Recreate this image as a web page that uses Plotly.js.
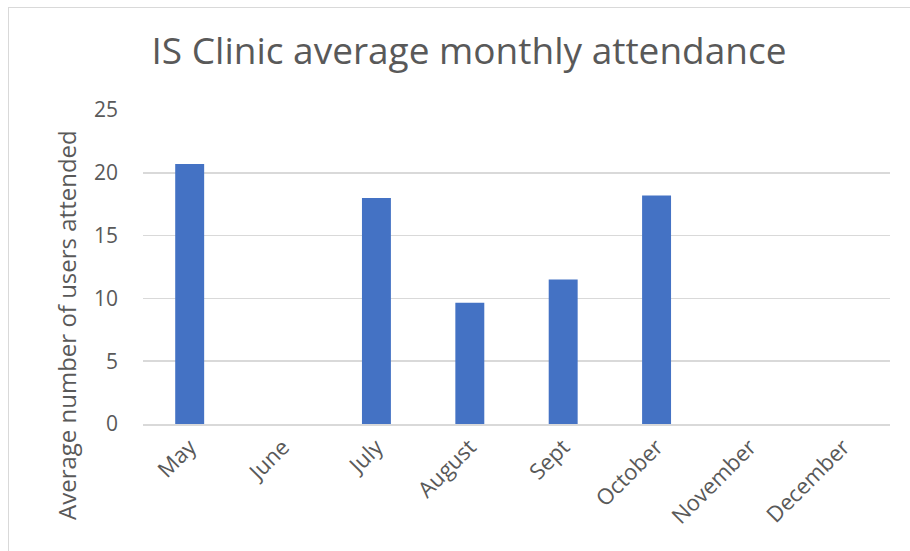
<!DOCTYPE html>
<html>
<head>
<meta charset="utf-8">
<script src="https://cdn.plot.ly/plotly-3.0.1.min.js"></script>
<style>
  html, body { margin: 0; padding: 0; background: #ffffff; }
  #chart { position: absolute; left: 0; top: 0; width: 910px; height: 551px; }
  #frame { position: absolute; left: 8px; top: 7px; width: 910px; height: 560px;
           border-left: 1.5px solid #d9d9d9; border-top: 1.5px solid #d9d9d9; pointer-events: none; }
</style>
</head>
<body>
<div id="chart"></div>
<div id="frame"></div>
<script>
const months = ["May", "June", "July", "August", "Sept", "October", "November", "December"];
const attendance = [20.7, 0, 18.0, 9.65, 11.5, 18.2, 0, 0];
const yTicks = [0, 5, 10, 15, 20, 25];

const W = 910, H = 551;
const plotL = 143, plotR = 890, plotT = 110, plotB = 424;

const trace = {
  type: "bar",
  x: months,
  y: attendance,
  marker: { color: "#4472c4", line: { width: 0 } },
  hoverinfo: "x+y"
};

const textColor = "#595959";
const layout = {
  width: W, height: H,
  margin: { l: plotL, r: W - plotR, t: plotT, b: H - plotB },
  paper_bgcolor: "#ffffff",
  plot_bgcolor: "#ffffff",
  bargap: 0.69,
  showlegend: false,
  font: { family: "Open Sans, sans-serif", color: textColor },
  title: {
    text: "IS Clinic average monthly attendance",
    font: { family: "Open Sans, sans-serif", size: 37, color: textColor },
    x: 469 / W, xanchor: "center",
    y: 1 - 51 / H, yanchor: "middle"
  },
  xaxis: {
    type: "category",
    tickangle: -45,
    tickfont: { size: 22, color: textColor },
    showgrid: false,
    showline: true, linecolor: "#d9d9d9", linewidth: 1.5,
    ticks: "", ticklen: 0,
    zeroline: false,
    automargin: false
  },
  yaxis: {
    range: [0, 25],
    tickvals: yTicks,
    ticktext: yTicks.map(String),
    tickfont: { size: 21, color: textColor },
    showgrid: true, gridcolor: "#d9d9d9", gridwidth: 1.5,
    zeroline: false,
    showline: false,
    ticks: "", ticklabelstandoff: 24,
    automargin: false
  },
  annotations: [{
    text: "Average number of users attended",
    textangle: -90,
    xref: "paper", yref: "paper",
    x: (66 - plotL) / (plotR - plotL),
    y: (plotB - 325) / (plotB - plotT),
    xanchor: "center", yanchor: "middle",
    showarrow: false,
    font: { family: "Open Sans, sans-serif", size: 24, color: textColor }
  }]
};

Plotly.newPlot("chart", [trace], layout, { displayModeBar: false, staticPlot: true });
</script>
</body>
</html>
